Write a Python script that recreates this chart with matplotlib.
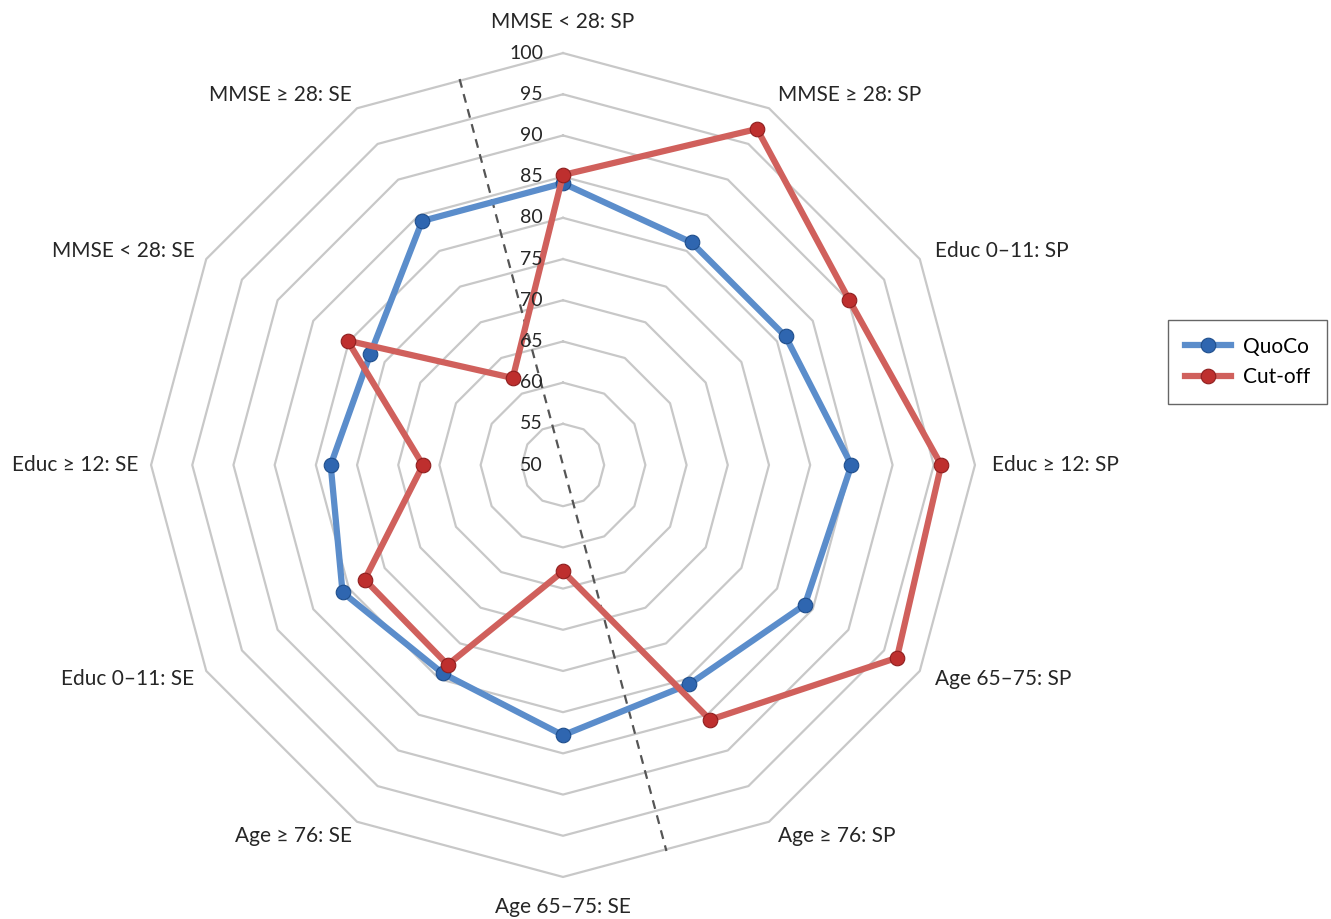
import numpy as np
import matplotlib
matplotlib.use("Agg")
import matplotlib.pyplot as plt
from matplotlib.lines import Line2D

plt.rcParams['font.family'] = ['Lato', 'DejaVu Sans']

categories = ["MMSE < 28: SP", "MMSE ≥ 28: SP", "Educ 0–11: SP", "Educ ≥ 12: SP",
              "Age 65–75: SP", "Age ≥ 76: SP", "Age 65–75: SE", "Age ≥ 76: SE",
              "Educ 0–11: SE", "Educ ≥ 12: SE", "MMSE < 28: SE", "MMSE ≥ 28: SE"]
quoco = [84.2, 81.2, 81.2, 85.0, 83.9, 80.7, 82.8, 79.2, 80.9, 78.2, 77.0, 84.2]
cutoff = [85.2, 97.1, 90.1, 95.9, 96.8, 85.7, 62.9, 78.0, 77.8, 67.0, 80.2, 62.2]
ticks = [50, 55, 60, 65, 70, 75, 80, 85, 90, 95, 100]
divider_deg = [345, 165]
divider_r = [98.5, 98.5]

fig = plt.figure(figsize=(13.31, 9.19), dpi=100)
ax = fig.add_axes([0.1135, 0.0457, 0.619, 0.8966], projection='polar')
ax.set_theta_zero_location('N')
ax.set_theta_direction(-1)
ax.set_ylim(50, 100)
ax.grid(False)
ax.spines['polar'].set_visible(False)
ax.set_xticks([])
ax.set_yticks([])
ax.patch.set_alpha(0)

n = len(categories)
theta = np.linspace(0, 2 * np.pi, n, endpoint=False)
theta_c = np.append(theta, theta[0])

grid_color = '#C8C8C8'
for v in ticks[1:]:
    ax.plot(theta_c, [v] * (n + 1), color=grid_color, lw=1.6, zorder=1, clip_on=False)

ax.plot(np.deg2rad(divider_deg), divider_r, color='#555555', lw=1.6,
        ls=(0, (4, 3)), zorder=3, clip_on=False)

offsets = [(0, 31, 'center'), (9, 13, 'left'), (15, 8, 'left'), (17, 0, 'left'),
           (15, -8, 'left'), (9, -14, 'left'), (0, -30, 'center'), (-5, -14, 'right'),
           (-12, -8, 'right'), (-13, 0, 'right'), (-12, 8, 'right'), (-5, 13, 'right')]
for t, lab, (dx, dy, ha) in zip(theta, categories, offsets):
    ax.annotate(lab, xy=(t, 100), xytext=(dx, dy), textcoords='offset pixels',
                ha=ha, va='center', fontsize=15, color='#262626', annotation_clip=False)

blue_line, blue_mk = '#5B8DCB', '#2F66B0'
red_line, red_mk = '#D0605C', '#BE2F2E'

ax.plot(theta_c, quoco + quoco[:1], color=blue_line, lw=4.5, zorder=4,
        solid_joinstyle='round', clip_on=False)
ax.plot(theta, quoco, ls='none', marker='o', ms=10.5, mfc=blue_mk, mec='#1F4E8C',
        mew=0.8, zorder=5, clip_on=False)
ax.plot(theta_c, cutoff + cutoff[:1], color=red_line, lw=4.5, zorder=6,
        solid_joinstyle='round', clip_on=False)
ax.plot(theta, cutoff, ls='none', marker='o', ms=10.5, mfc=red_mk, mec='#8E1F1F',
        mew=0.8, zorder=7, clip_on=False)

for v in ticks:
    ax.annotate(str(v), xy=(0, v), xytext=(-20, 0), textcoords='offset pixels',
                ha='right', va='center', fontsize=14, color='#262626', zorder=20)

handles = [Line2D([], [], color=blue_line, lw=4.5, marker='o', ms=10.5, mfc=blue_mk,
                  mec='#1F4E8C', mew=0.8),
           Line2D([], [], color=red_line, lw=4.5, marker='o', ms=10.5, mfc=red_mk,
                  mec='#8E1F1F', mew=0.8)]
leg = fig.legend(handles, ['QuoCo', 'Cut-off'], loc='center',
                 bbox_to_anchor=(1247.5 / 1331, 1 - 362 / 919), fontsize=15,
                 frameon=True, fancybox=False, edgecolor='#404040', handlelength=2.2,
                 borderpad=0.8, labelspacing=0.5, handletextpad=0.6)
leg.get_frame().set_linewidth(1.0)

fig.savefig('out.png', dpi=100, facecolor='white')
